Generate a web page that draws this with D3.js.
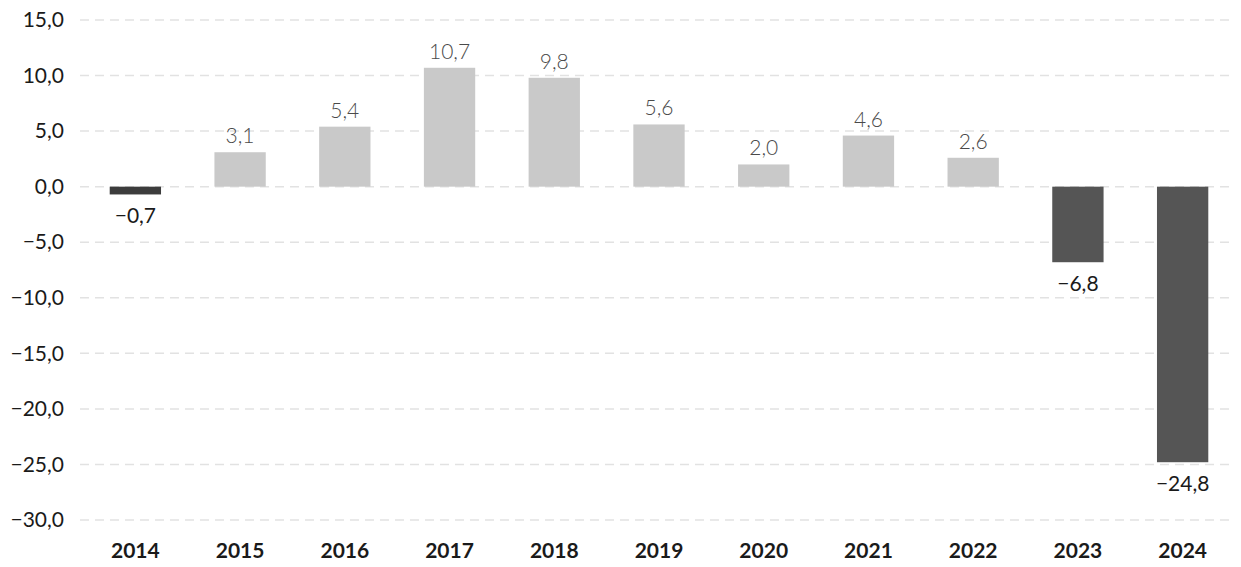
<!DOCTYPE html>
<html>
<head>
<meta charset="utf-8">
<script src="https://cdn.jsdelivr.net/npm/d3@7/dist/d3.min.js"></script>
<style>
  html, body { margin: 0; padding: 0; background: #fff; }
  svg { display: block; font-family: Lato, "Open Sans", sans-serif; }
</style>
</head>
<body>
<svg id="chart" width="1241" height="567"></svg>
<script>
// Annual change, %
const years = ["2014", "2015", "2016", "2017", "2018", "2019", "2020", "2021", "2022", "2023", "2024"];
const values = [-0.7, 3.1, 5.4, 10.7, 9.8, 5.6, 2.0, 4.6, 2.6, -6.8, -24.8];
const yTicks = [15, 10, 5, 0, -5, -10, -15, -20, -25, -30];

const svg = d3.select("#chart");
const fmt = v => d3.format(".1f")(v).replace(".", ",");

const x = d3.scaleBand()
  .domain(years)
  .range([83, 1235])
  .paddingInner(0.51)
  .paddingOuter(0.255);

const y = d3.scaleLinear()
  .domain([-30, 15])
  .range([520, 20]);

// faint dashed grid lines
svg.append("g")
  .selectAll("line")
  .data(yTicks)
  .join("line")
  .attr("x1", 80)
  .attr("x2", 1234)
  .attr("y1", d => y(d))
  .attr("y2", d => y(d))
  .attr("stroke", "#e2e2e2")
  .attr("stroke-width", 1.5)
  .attr("stroke-dasharray", "9 6");

// y axis labels
const yAxis = d3.axisLeft(y).tickValues(yTicks).tickFormat(fmt).tickSize(0).tickPadding(0);
svg.append("g")
  .attr("transform", "translate(64,0)")
  .call(yAxis)
  .call(g => g.select(".domain").remove())
  .call(g => g.selectAll("text")
    .attr("font-family", "Lato, sans-serif")
    .attr("font-size", 21)
    .attr("fill", "#1a1a1a"));

// x axis labels
const xAxis = d3.axisBottom(x).tickSize(0).tickPadding(0);
svg.append("g")
  .attr("transform", "translate(0,543)")
  .call(xAxis)
  .call(g => g.select(".domain").remove())
  .call(g => g.selectAll("text")
    .attr("font-family", "Lato, sans-serif")
    .attr("font-size", 21)
    .attr("font-weight", "bold")
    .attr("fill", "#1a1a1a"));

// bars
svg.append("g")
  .selectAll("rect")
  .data(years.map((yr, i) => ({ yr, v: values[i] })))
  .join("rect")
  .attr("x", d => x(d.yr))
  .attr("width", x.bandwidth())
  .attr("y", d => y(Math.max(0, d.v)))
  .attr("height", d => Math.abs(y(d.v) - y(0)))
  .attr("fill", d => d.v < 0 ? (d.yr === "2014" ? "#3c3c3c" : "#555555") : "#c9c9c9");

// value labels
svg.append("g")
  .selectAll("text")
  .data(years.map((yr, i) => ({ yr, v: values[i] })))
  .join("text")
  .attr("x", d => x(d.yr) + x.bandwidth() / 2)
  .attr("y", d => d.v >= 0 ? y(d.v) - 9 : y(d.v) + 29)
  .attr("text-anchor", "middle")
  .attr("font-family", "Lato, sans-serif")
  .attr("font-size", 21)
  .attr("font-weight", d => d.v >= 0 ? 300 : 400)
  .attr("fill", d => d.v >= 0 ? "#4a4a4a" : "#1a1a1a")
  .text(d => fmt(d.v));
</script>
</body>
</html>
